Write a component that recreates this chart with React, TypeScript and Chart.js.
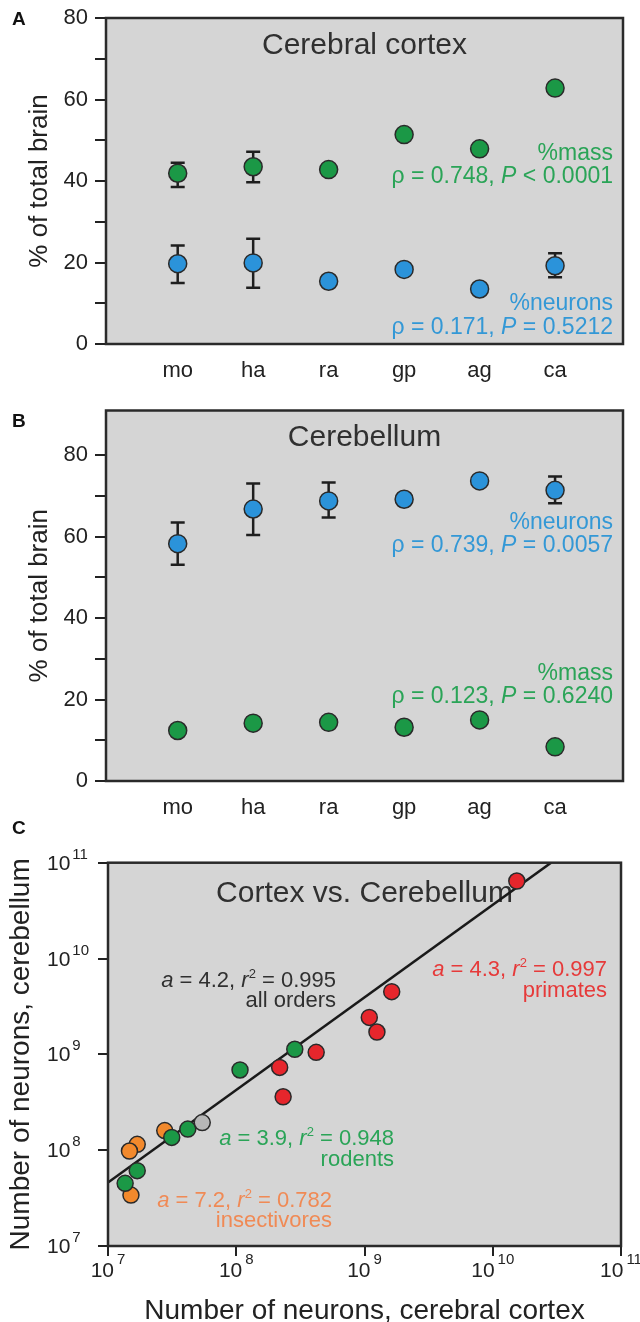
import React, { useEffect, useRef } from "react";
import { Chart, registerables } from "chart.js";
Chart.register(...registerables);

const FONT = "'Liberation Sans', Arial, Helvetica, sans-serif";
const PLOT_BG = "#d5d5d5";
const INK = "#222222";

// ---------- Panels A & B : categories and percent ticks ----------
const categories = ["mo", "ha", "ra", "gp", "ag", "ca"];
const pctTicks = [0, 10, 20, 30, 40, 50, 60, 70, 80];
const pctLabelStep = 20;

// Panel A: cerebral cortex, % of total brain
const cortexMass = [41.9, 43.5, 42.8, 51.4, 47.9, 62.8];
const cortexMassLow = [38.5, 39.7, null, null, null, null];
const cortexMassHigh = [44.5, 47.2, null, null, null, null];
const cortexNeurons = [19.7, 19.9, 15.4, 18.3, 13.5, 19.2];
const cortexNeuronsLow = [15.0, 13.8, null, null, null, 16.4];
const cortexNeuronsHigh = [24.2, 25.8, null, null, null, 22.3];

// Panel B: cerebellum, % of total brain
const cbNeurons = [58.3, 66.8, 68.8, 69.2, 73.7, 71.4];
const cbNeuronsLow = [53.1, 60.4, 64.7, null, null, 68.2];
const cbNeuronsHigh = [63.5, 73.1, 73.3, null, null, 74.8];
const cbMass = [12.4, 14.2, 14.4, 13.2, 15.0, 8.4];

// ---------- Panel C : neurons, cortex vs cerebellum ----------
const primatesCortex = [1.54e10, 1.63e9, 1.09e9, 1.25e9, 4.2e8, 2.18e8, 2.32e8];
const primatesCerebellum = [6.44e10, 4.51e9, 2.43e9, 1.71e9, 1.05e9, 7.31e8, 3.61e8];
const rodentsCortex = [2.86e8, 1.07e8, 4.19e7, 3.14e7, 1.69e7, 1.36e7];
const rodentsCerebellum = [1.13e9, 6.87e8, 1.66e8, 1.36e8, 6.11e7, 4.51e7];
const insectivoresCortex = [2.77e7, 1.69e7, 1.47e7, 1.51e7];
const insectivoresCerebellum = [1.6e8, 1.15e8, 9.8e7, 3.4e7];
const otherCortex = [5.43e7];
const otherCerebellum = [1.94e8];
const allOrdersFitCortex = [1e7, 2.85e10];
const allOrdersFitCerebellum = [4.6e7, 1e11];
const decadeExponents = [7, 8, 9, 10, 11];

const GREEN = "#1b9846";
const BLUE = "#2b93da";
const RED = "#e6262c";
const ORANGE = "#f2892c";
const GRAY = "#b7b7b7";
const T_GREEN = "#2aa457";
const T_BLUE = "#3398d6";
const T_RED = "#e63a3a";
const T_ORANGE = "#f08a55";
const T_DARK = "#303030";

type Run = { t: string; i?: boolean; sup?: boolean };
type Label = { runs: Run[]; x: number | "center"; y: number; size: number; color: string; align: "left" | "center" | "right" };

function drawRuns(ctx: CanvasRenderingContext2D, l: Label, cx: number) {
  const f = (r: Run) => `${r.i ? "italic " : ""}${r.sup ? Math.round(l.size * 0.6) : l.size}px ${FONT}`;
  const ws = l.runs.map((r) => {
    ctx.font = f(r);
    return ctx.measureText(r.t).width;
  });
  const total = ws.reduce((a, b) => a + b, 0);
  const ax = l.x === "center" ? cx : l.x;
  let x = l.align === "right" ? ax - total : l.align === "center" ? ax - total / 2 : ax;
  ctx.fillStyle = l.color;
  ctx.textAlign = "left";
  ctx.textBaseline = "alphabetic";
  l.runs.forEach((r, k) => {
    ctx.font = f(r);
    ctx.fillText(r.t, x, r.sup ? l.y - l.size * 0.4 : l.y);
    x += ws[k];
  });
}

function decoPlugin(letter: string, letterBaseline: number, labels: Label[], extra?: (c: any) => void) {
  return {
    id: "deco",
    beforeDraw(chart: any) {
      const { ctx, chartArea: a } = chart;
      ctx.save();
      ctx.fillStyle = PLOT_BG;
      ctx.fillRect(a.left, a.top, a.right - a.left, a.bottom - a.top);
      ctx.restore();
    },
    beforeDatasetsDraw(chart: any) {
      const { ctx, chartArea: a } = chart;
      ctx.save();
      const cx = (a.left + a.right) / 2;
      labels.forEach((l) => drawRuns(ctx, l, cx));
      const xs = chart.scales.x;
      const ys = chart.scales.y;
      ctx.strokeStyle = "#1e1e1e";
      ctx.lineWidth = 2.5;
      chart.data.datasets.forEach((ds: any) => {
        if (!ds.errLow) return;
        ds.errLow.forEach((lo: number | null, i: number) => {
          const hi = ds.errHigh[i];
          if (lo == null || hi == null) return;
          const x = xs.getPixelForValue(ds.data[i].x);
          const y1 = ys.getPixelForValue(lo);
          const y2 = ys.getPixelForValue(hi);
          ctx.beginPath();
          ctx.moveTo(x, y1);
          ctx.lineTo(x, y2);
          ctx.moveTo(x - 7, y1);
          ctx.lineTo(x + 7, y1);
          ctx.moveTo(x - 7, y2);
          ctx.lineTo(x + 7, y2);
          ctx.stroke();
        });
      });
      ctx.restore();
    },
    afterDatasetsDraw(chart: any) {
      const { ctx, chartArea: a } = chart;
      ctx.save();
      ctx.strokeStyle = "#2a2a2a";
      ctx.lineWidth = 2.5;
      ctx.strokeRect(a.left, a.top, a.right - a.left, a.bottom - a.top);
      ctx.restore();
    },
    afterDraw(chart: any) {
      const { ctx } = chart;
      ctx.save();
      ctx.fillStyle = "#111";
      ctx.font = `bold 19px ${FONT}`;
      ctx.textAlign = "left";
      ctx.textBaseline = "alphabetic";
      ctx.fillText(letter, 12, letterBaseline);
      if (extra) extra(chart);
      ctx.restore();
    },
  };
}

function pointSet(values: number[], color: string, low?: (number | null)[], high?: (number | null)[]) {
  return {
    data: values.map((y, i) => ({ x: i, y })),
    backgroundColor: color,
    borderColor: "#2a2a2a",
    borderWidth: 1.5,
    pointRadius: 9,
    pointHoverRadius: 9,
    errLow: low,
    errHigh: high,
  };
}

function pctConfig(o: { letter: string; letterBaseline: number; yMax: number; padTop: number; axisH: number; datasets: any[]; labels: Label[] }) {
  const tickFont = { size: 22, family: FONT };
  return {
    type: "scatter",
    data: { datasets: o.datasets },
    options: {
      animation: false,
      responsive: false,
      devicePixelRatio: 1,
      layout: { padding: { left: 0, right: 17, top: o.padTop, bottom: 0 } },
      plugins: { legend: { display: false }, tooltip: { enabled: false } },
      scales: {
        x: {
          type: "linear",
          min: -0.95,
          max: 5.9,
          afterBuildTicks: (s: any) => {
            s.ticks = categories.map((_, i) => ({ value: i }));
          },
          afterFit: (s: any) => {
            s.height = o.axisH;
            s.paddingLeft = 0;
            s.paddingRight = 0;
          },
          grid: { display: false },
          border: { display: false },
          ticks: {
            callback: (v: number) => categories[v] ?? "",
            font: tickFont,
            color: INK,
            padding: 6,
            autoSkip: false,
            maxRotation: 0,
          },
        },
        y: {
          type: "linear",
          min: 0,
          max: o.yMax,
          afterBuildTicks: (s: any) => {
            s.ticks = pctTicks.map((v) => ({ value: v }));
          },
          afterFit: (s: any) => {
            s.width = 106;
            s.paddingTop = 0;
            s.paddingBottom = 0;
          },
          grid: { drawOnChartArea: false, drawTicks: true, tickLength: 11, color: INK, lineWidth: 2 },
          border: { display: false },
          ticks: {
            callback: (v: number) => (v % pctLabelStep === 0 ? String(v) : ""),
            font: tickFont,
            color: INK,
            padding: 7,
            autoSkip: false,
          },
          title: {
            display: true,
            text: "% of total brain",
            font: { size: 26, family: FONT },
            color: INK,
            padding: { top: 24, bottom: 0 },
          },
        },
      },
    },
    plugins: [decoPlugin(o.letter, o.letterBaseline, o.labels)],
  };
}

const rhoRuns = (rho: string, rel: string, p: string): Run[] => [
  { t: `ρ = ${rho}, ` },
  { t: "P", i: true },
  { t: ` ${rel} ${p}` },
];
const fitRuns = (a: string, r2: string): Run[] => [
  { t: "a", i: true },
  { t: ` = ${a}, ` },
  { t: "r", i: true },
  { t: "2", sup: true },
  { t: ` = ${r2}` },
];

function configA() {
  return pctConfig({
    letter: "A",
    letterBaseline: 25,
    yMax: 80,
    padTop: 18,
    axisH: 56,
    datasets: [
      pointSet(cortexMass, GREEN, cortexMassLow, cortexMassHigh),
      pointSet(cortexNeurons, BLUE, cortexNeuronsLow, cortexNeuronsHigh),
    ],
    labels: [
      { runs: [{ t: "Cerebral cortex" }], x: "center", y: 54, size: 30, color: T_DARK, align: "center" },
      { runs: [{ t: "%mass" }], x: 613, y: 159.5, size: 23, color: T_GREEN, align: "right" },
      { runs: rhoRuns("0.748", "<", "0.0001"), x: 613, y: 183, size: 23, color: T_GREEN, align: "right" },
      { runs: [{ t: "%neurons" }], x: 613, y: 310, size: 23, color: T_BLUE, align: "right" },
      { runs: rhoRuns("0.171", "=", "0.5212"), x: 613, y: 333.5, size: 23, color: T_BLUE, align: "right" },
    ],
  });
}

function configB() {
  return pctConfig({
    letter: "B",
    letterBaseline: 27,
    yMax: 91,
    padTop: 7.7,
    axisH: 39,
    datasets: [
      pointSet(cbNeurons, BLUE, cbNeuronsLow, cbNeuronsHigh),
      pointSet(cbMass, GREEN),
    ],
    labels: [
      { runs: [{ t: "Cerebellum" }], x: "center", y: 45.7, size: 30, color: T_DARK, align: "center" },
      { runs: [{ t: "%neurons" }], x: 613, y: 129.3, size: 23, color: T_BLUE, align: "right" },
      { runs: rhoRuns("0.739", "=", "0.0057"), x: 613, y: 151.7, size: 23, color: T_BLUE, align: "right" },
      { runs: [{ t: "%mass" }], x: 613, y: 280, size: 23, color: T_GREEN, align: "right" },
      { runs: rhoRuns("0.123", "=", "0.6240"), x: 613, y: 302.7, size: 23, color: T_GREEN, align: "right" },
    ],
  });
}

function groupSet(xs: number[], ys: number[], color: string, order: number) {
  return {
    type: "scatter",
    data: xs.map((x, i) => ({ x, y: ys[i] })),
    backgroundColor: color,
    borderColor: "#2a2a2a",
    borderWidth: 1.5,
    pointRadius: 8,
    pointHoverRadius: 8,
    order,
  };
}

function drawLogLabels(chart: any) {
  const { ctx } = chart;
  const xs = chart.scales.x;
  const ys = chart.scales.y;
  const base = `21px ${FONT}`;
  const sup = `15px ${FONT}`;
  ctx.fillStyle = INK;
  ctx.textAlign = "left";
  ctx.textBaseline = "alphabetic";
  decadeExponents.forEach((e) => {
    const exp = String(e);
    ctx.font = base;
    const wb = ctx.measureText("10").width;
    ctx.font = sup;
    const we = ctx.measureText(exp).width;
    // x axis label
    const px = xs.getPixelForValue(Math.pow(10, e));
    const x0 = px - (wb + 3 + we) / 2;
    const yb = xs.top + 31;
    ctx.font = base;
    ctx.fillText("10", x0, yb);
    ctx.font = sup;
    ctx.fillText(exp, x0 + wb + 3, yb - 13);
    // y axis label
    const py = ys.getPixelForValue(Math.pow(10, e));
    ctx.font = base;
    ctx.fillText("10", 47, py + 7);
    ctx.font = sup;
    ctx.fillText(exp, 47 + wb + 2, py - 4);
  });
}

function configC() {
  const gridOpts = { drawOnChartArea: false, drawTicks: true, tickLength: 10, color: INK, lineWidth: 2 };
  return {
    type: "scatter",
    data: {
      datasets: [
        groupSet(otherCortex, otherCerebellum, GRAY, 0),
        groupSet(rodentsCortex, rodentsCerebellum, GREEN, 1),
        groupSet(insectivoresCortex, insectivoresCerebellum, ORANGE, 2),
        groupSet(primatesCortex, primatesCerebellum, RED, 3),
        {
          type: "line",
          data: allOrdersFitCortex.map((x, i) => ({ x, y: allOrdersFitCerebellum[i] })),
          borderColor: "#1a1a1a",
          borderWidth: 2.5,
          pointRadius: 0,
          fill: false,
          order: 10,
        },
      ],
    },
    options: {
      animation: false,
      responsive: false,
      devicePixelRatio: 1,
      layout: { padding: { left: 0, right: 19, top: 42.7, bottom: 0 } },
      plugins: { legend: { display: false }, tooltip: { enabled: false } },
      scales: {
        x: {
          type: "logarithmic",
          min: 1e7,
          max: 1e11,
          afterBuildTicks: (s: any) => {
            s.ticks = decadeExponents.map((e) => ({ value: Math.pow(10, e) }));
          },
          afterFit: (s: any) => {
            s.height = 76;
            s.paddingLeft = 0;
            s.paddingRight = 0;
          },
          grid: gridOpts,
          border: { display: false },
          ticks: { display: false },
          title: {
            display: true,
            text: "Number of neurons, cerebral cortex",
            font: { size: 28, family: FONT, lineHeight: 0.8 },
            color: INK,
            padding: { top: 0, bottom: 0 },
          },
        },
        y: {
          type: "logarithmic",
          min: 1e7,
          max: 1e11,
          afterBuildTicks: (s: any) => {
            s.ticks = decadeExponents.map((e) => ({ value: Math.pow(10, e) }));
          },
          afterFit: (s: any) => {
            s.width = 108;
            s.paddingTop = 0;
            s.paddingBottom = 0;
          },
          grid: gridOpts,
          border: { display: false },
          ticks: { display: false },
          title: {
            display: true,
            text: "Number of neurons, cerebellum",
            font: { size: 28, family: FONT },
            color: INK,
            padding: { top: 4, bottom: 0 },
          },
        },
      },
    },
    plugins: [
      decoPlugin(
        "C",
        14,
        [
          { runs: [{ t: "Cortex vs. Cerebellum" }], x: "center", y: 81.7, size: 30, color: T_DARK, align: "center" },
          { runs: fitRuns("4.2", "0.995"), x: 336, y: 166.7, size: 22, color: T_DARK, align: "right" },
          { runs: [{ t: "all orders" }], x: 336, y: 186.7, size: 22, color: T_DARK, align: "right" },
          { runs: fitRuns("4.3", "0.997"), x: 607, y: 156, size: 22, color: T_RED, align: "right" },
          { runs: [{ t: "primates" }], x: 607, y: 176.5, size: 22, color: T_RED, align: "right" },
          { runs: fitRuns("3.9", "0.948"), x: 394, y: 325, size: 22, color: T_GREEN, align: "right" },
          { runs: [{ t: "rodents" }], x: 394, y: 345.5, size: 22, color: T_GREEN, align: "right" },
          { runs: fitRuns("7.2", "0.782"), x: 332, y: 386.7, size: 22, color: T_ORANGE, align: "right" },
          { runs: [{ t: "insectivores" }], x: 332, y: 406.7, size: 22, color: T_ORANGE, align: "right" },
        ],
        drawLogLabels
      ),
    ],
  };
}

export default function App() {
  const refA = useRef<HTMLCanvasElement>(null);
  const refB = useRef<HTMLCanvasElement>(null);
  const refC = useRef<HTMLCanvasElement>(null);

  useEffect(() => {
    const charts = [
      new Chart(refA.current as HTMLCanvasElement, configA() as any),
      new Chart(refB.current as HTMLCanvasElement, configB() as any),
      new Chart(refC.current as HTMLCanvasElement, configC() as any),
    ];
    return () => charts.forEach((c) => c.destroy());
  }, []);

  return (
    <div style={{ position: "absolute", left: 0, top: 0, width: 640, height: 1322, overflow: "hidden", background: "#fff" }}>
      <canvas ref={refA} width={640} height={400} style={{ position: "absolute", left: 0, top: 0, display: "block" }} />
      <canvas ref={refB} width={640} height={420} style={{ position: "absolute", left: 0, top: 400, display: "block" }} />
      <canvas ref={refC} width={640} height={502} style={{ position: "absolute", left: 0, top: 820, display: "block" }} />
    </div>
  );
}
